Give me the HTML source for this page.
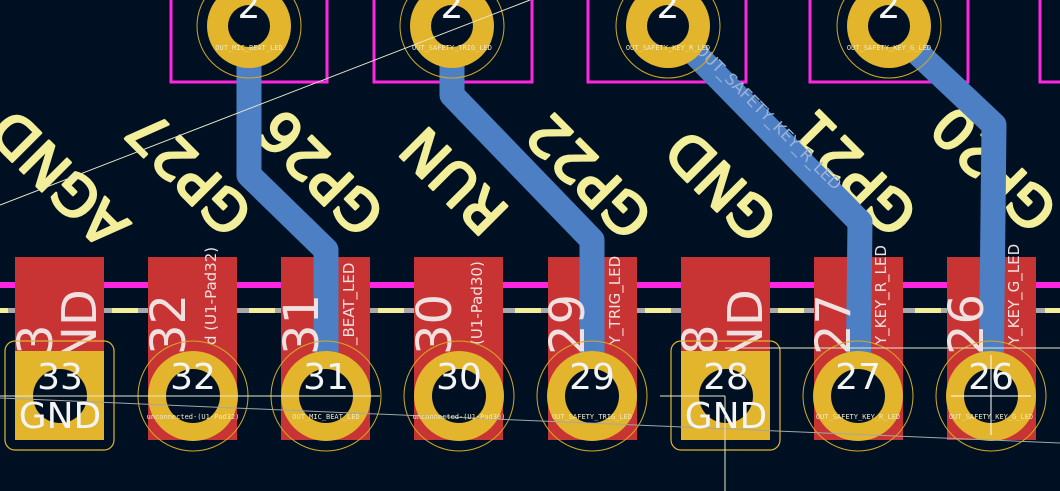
<!DOCTYPE html>
<html><head><style>html,body{margin:0;padding:0;background:#001023;overflow:hidden}svg{display:block}</style></head><body>
<svg width="1060" height="491" viewBox="0 0 1060 491" xmlns="http://www.w3.org/2000/svg" font-family="Liberation Sans, DejaVu Sans, sans-serif">
<rect width="1060" height="491" fill="#001023"/>
<g fill="none" stroke="#ff26e2" stroke-width="3">
<rect x="171" y="-10" width="156" height="92"/>
<rect x="374" y="-10" width="158" height="92"/>
<rect x="588" y="-10" width="158" height="92"/>
<rect x="810" y="-10" width="158" height="92"/>
<rect x="1040" y="-10" width="60" height="92"/>
</g>
<rect x="0" y="282" width="1060" height="6" fill="#ff26e2"/>
<rect x="0" y="308" width="1060" height="5" fill="#a8a8a8"/>
<g fill="#f2ee9a"><rect x="0" y="308" width="8" height="5"/><rect x="112" y="308" width="26" height="5"/><rect x="249" y="308" width="26" height="5"/><rect x="378" y="308" width="26" height="5"/><rect x="515" y="308" width="26" height="5"/><rect x="645" y="308" width="26" height="5"/><rect x="778" y="308" width="26" height="5"/><rect x="915" y="308" width="26" height="5"/><rect x="1045" y="308" width="15" height="5"/></g>
<g fill="#c83434">
<rect x="15" y="257" width="89" height="183"/><rect x="148" y="257" width="89" height="183"/><rect x="281" y="257" width="89" height="183"/><rect x="414" y="257" width="89" height="183"/><rect x="548" y="257" width="89" height="183"/><rect x="681" y="257" width="89" height="183"/><rect x="814" y="257" width="89" height="183"/><rect x="947" y="257" width="89" height="183"/>
</g>
<g fill="#f2ee9a" stroke="#f2ee9a" stroke-width="2.5" stroke-linejoin="round" font-size="56" text-anchor="middle" dominant-baseline="central" font-family="DejaVu Sans, sans-serif">
<text transform="translate(60,178) rotate(-135)">AGND</text>
<text transform="translate(190,172) rotate(-135)">GP27</text>
<text transform="translate(322,172) rotate(-135)">GP26</text>
<text transform="translate(455,180) rotate(-135)">RUN</text>
<text transform="translate(590,175) rotate(-135)">GP22</text>
<text transform="translate(722,185) rotate(-135)">GND</text>
<text transform="translate(855,172) rotate(-135)">GP21</text>
<text transform="translate(995,168) rotate(-135)">GP20</text>
</g>
<g fill="none" stroke="#4d7fc4" stroke-width="25" stroke-linejoin="round" stroke-linecap="round">
<polyline points="249,26 249,175 326,250 326,396"/>
<polyline points="452,26 452,95 592,240 592,396"/>
<polyline points="668,26 860,222 858,396"/>
<polyline points="889,26 994,125 991,396"/>
</g>
<text transform="translate(694,50) rotate(45)" fill="#9cb3d8" font-size="16" font-family="DejaVu Sans, sans-serif">OUT_SAFETY_KEY_R_LED</text>
<g fill="#f0e0e0" font-family="DejaVu Sans, sans-serif">
<g font-size="48"><text transform="translate(96,362) rotate(-90)">ND</text><text transform="translate(762,362) rotate(-90)">ND</text></g>
<g font-size="15">
<text transform="translate(216,345) rotate(-90)">d (U1-Pad32)</text>
<text transform="translate(482,345) rotate(-90)">(U1-Pad30)</text>
<text transform="translate(354,345) rotate(-90)">_BEAT_LED</text>
<text transform="translate(620,345) rotate(-90)">Y_TRIG_LED</text>
<text transform="translate(886,345) rotate(-90)">Y_KEY_R_LED</text>
<text transform="translate(1019,345) rotate(-90)">Y_KEY_G_LED</text>
</g>
<g font-size="48">
<text transform="translate(52,355) rotate(-90)">3</text>
<text transform="translate(185,355) rotate(-90)">32</text>
<text transform="translate(318,355) rotate(-90)">31</text>
<text transform="translate(451,355) rotate(-90)">30</text>
<text transform="translate(584,355) rotate(-90)">29</text>
<text transform="translate(717,355) rotate(-90)">8</text>
<text transform="translate(850,355) rotate(-90)">27</text>
<text transform="translate(983,355) rotate(-90)">26</text>
</g>
</g>
<g fill="#e2b52c"><rect x="15" y="351" width="89" height="89"/><rect x="681" y="351" width="89" height="89"/></g>
<g fill="none" stroke="#e2b52c" stroke-width="1.2"><rect x="5" y="341" width="109" height="109" rx="10"/><rect x="671" y="341" width="109" height="109" rx="10"/></g>
<g fill="#e2b52c">
<circle cx="193" cy="396" r="45"/><circle cx="326" cy="396" r="45"/><circle cx="459" cy="396" r="45"/><circle cx="592" cy="396" r="45"/><circle cx="858" cy="396" r="45"/><circle cx="991" cy="396" r="45"/>
<circle cx="249" cy="26" r="42"/><circle cx="452" cy="26" r="42"/><circle cx="668" cy="26" r="42"/><circle cx="889" cy="26" r="42"/>
</g>
<g fill="#001023">
<circle cx="60" cy="396" r="27"/><circle cx="726" cy="396" r="27"/>
<circle cx="193" cy="396" r="27"/><circle cx="326" cy="396" r="27"/><circle cx="459" cy="396" r="27"/><circle cx="592" cy="396" r="27"/><circle cx="858" cy="396" r="27"/><circle cx="991" cy="396" r="27"/>
<circle cx="249" cy="26" r="21"/><circle cx="452" cy="26" r="21"/><circle cx="668" cy="26" r="21"/><circle cx="889" cy="26" r="21"/>
</g>
<g fill="none" stroke="#d4aa20" stroke-width="1">
<circle cx="193" cy="396" r="55"/><circle cx="326" cy="396" r="55"/><circle cx="459" cy="396" r="55"/><circle cx="592" cy="396" r="55"/><circle cx="858" cy="396" r="55"/><circle cx="991" cy="396" r="55"/>
<circle cx="249" cy="26" r="52"/><circle cx="452" cy="26" r="52"/><circle cx="668" cy="26" r="52"/><circle cx="889" cy="26" r="52"/>
</g>
<g stroke="#e8e8c8" stroke-width="1" fill="none">
<line x1="0" y1="205" x2="530" y2="0"/>
<line x1="0" y1="396" x2="380" y2="396"/>
<line x1="0" y1="398" x2="1060" y2="443" stroke="#a0a8a8"/>
<line x1="725" y1="348" x2="1060" y2="348"/>
<line x1="660" y1="396" x2="725" y2="396"/>
<line x1="725" y1="396" x2="725" y2="491"/>
<line x1="951" y1="396" x2="1031" y2="396" stroke="#fff"/>
<line x1="991" y1="355" x2="991" y2="435" stroke="#fff"/>
</g>
<g fill="#f4f4f4" font-size="36" text-anchor="middle" font-family="DejaVu Sans, sans-serif">
<text x="60" y="389">33</text><text x="193" y="389">32</text><text x="326" y="389">31</text><text x="459" y="389">30</text><text x="592" y="389">29</text><text x="726" y="389">28</text><text x="858" y="389">27</text><text x="991" y="389">26</text>
<text x="60" y="428">GND</text><text x="726" y="428">GND</text>
<text x="249" y="18">2</text><text x="452" y="18">2</text><text x="668" y="18">2</text><text x="889" y="18">2</text>
</g>
<g fill="#f0e8c0" font-size="7" text-anchor="middle" font-family="DejaVu Sans Mono, monospace">
<text x="193" y="419">unconnected-(U1-Pad32)</text><text x="326" y="419">OUT_MIC_BEAT_LED</text><text x="459" y="419">unconnected-(U1-Pad30)</text><text x="592" y="419">OUT_SAFETY_TRIG_LED</text><text x="858" y="419">OUT_SAFETY_KEY_R_LED</text><text x="991" y="419">OUT_SAFETY_KEY_G_LED</text>
<text x="249" y="50">OUT_MIC_BEAT_LED</text><text x="452" y="50">OUT_SAFETY_TRIG_LED</text><text x="668" y="50">OUT_SAFETY_KEY_R_LED</text><text x="889" y="50">OUT_SAFETY_KEY_G_LED</text>
</g>
</svg>
</body></html>
